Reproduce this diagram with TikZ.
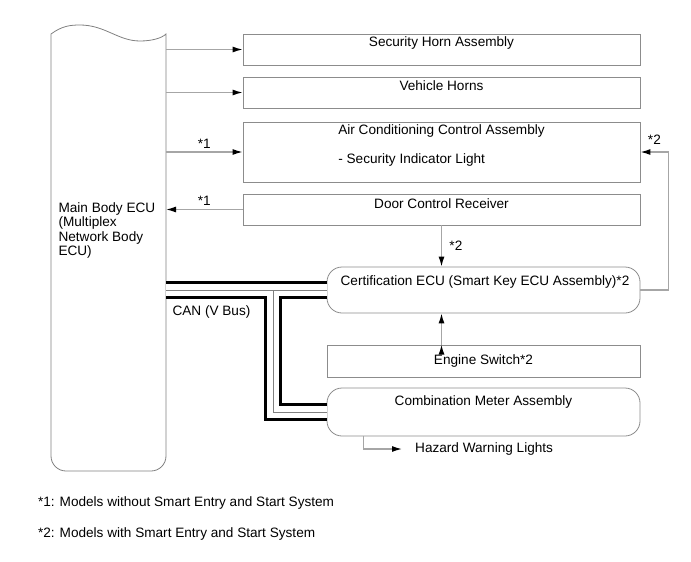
\documentclass[tikz,border=0pt]{standalone}
\usepackage{fontspec}
\setmainfont{Liberation Sans}
\usetikzlibrary{arrows.meta,calc,positioning}

\begin{document}
\begin{tikzpicture}[x=1pt, y=-1pt, font=\fontsize{13.6}{14.5}\selectfont,
  unit/.style={draw=black!45, line width=0.8pt, minimum width=313, inner sep=0pt},
  wide/.style={unit, minimum width=397},
  ecuedge/.style={draw=black!50, line width=0.8pt},
  sig/.style={draw=black!35, line width=1.3pt, -{Latex[length=10pt,width=6pt,color=black]}}
  ]
  \useasboundingbox (0,0) rectangle (691,562);

  % main body ECU
  \node[minimum width=115, minimum height=437, inner sep=0pt, outer sep=0pt] (ecu) at (108.5,252.5) {};
  \draw[ecuedge] (ecu.north west) .. controls (62,26) and (70,25) .. (80,25)
    .. controls (105,25) and (118,41) .. (140,41)
    .. controls (152,41) and (162,38) .. (ecu.north east) -- ++(0,30)
    [rounded corners=15] -- (ecu.south east) -- (ecu.south west) -- ++(0,-100)
    [sharp corners] -- cycle;
  \node[anchor=west, align=left] (ecu-txt) at (55,230.5) {Main Body ECU\\(Multiplex\\Network Body\\ECU)};

  % receivers
  \node[wide, minimum height=31] (horn) at (441.5,49.5) {};
  \node[wide, minimum height=31] (vhorn) at (441.5,92.5) {};
  \node[wide, minimum height=60] (ac) at (441.5,152) {};
  \node[wide, minimum height=31] (door) at (441.5,209.5) {};
  \node[unit, rounded corners=15, minimum height=46] (cert) at (483.5,290) {};
  \node[unit, minimum height=32] (engine) at (483.5,361) {};
  \node[unit, rounded corners=15, minimum height=48] (meter) at (483.5,412) {};

  \node (horn-txt) at (441.5,43) {Security Horn Assembly};
  \node (vhorn-txt) at (441.5,86) {Vehicle Horns};
  \node (ac-txt) at (441.5,131) {Air Conditioning Control Assembly};
  \node[anchor=west, yshift=-29pt] (ac-sub) at (ac-txt.west) {- Security Indicator Light};
  \node (door-txt) at (441.5,204) {Door Control Receiver};
  \node (cert-txt) at (485,282) {Certification ECU (Smart Key ECU Assembly)*2};
  \node (engine-txt) at (483.5,361) {Engine Switch*2};
  \node (meter-txt) at (483.5,402) {Combination Meter Assembly};

  % CAN bus
  \coordinate (tap) at (273,290);
  \foreach \w/\c in {18/black, 12/white, 0.8/black!50}
    \draw[line width=\w, \c, line join=miter] (ecu.east |- cert.west) -- (cert.west) (tap) |- (meter.west);
  \node[anchor=west] (can) at (169,312) {CAN (V Bus)};

  % signals
  \path[sig]
    (ecu.east |- horn.west) edge (horn.west)
    (ecu.east |- vhorn.west) edge (vhorn.west)
    (ecu.east |- ac.west) edge node[above]{*1} (ac.west)
    (door.west) edge node[above]{*1} (ecu.east |- door.west)
    (door.south) edge node[right=4pt]{*2} (door.south |- cert.north)
    (door.south |- engine.north) edge (door.south |- cert.south)
    ;
  \draw[sig] (cert.east) -- ++(28,0) |- node[pos=0.75, above=4pt]{*2} (ac.east);

  \coordinate (hz) at (402,449);
  \node[right=13pt of hz, inner sep=0pt] (hazard) {Hazard Warning Lights};
  \draw[sig] ($(meter.south west)+(37,0)$) |- (hz);

  % notes
  \node[anchor=west] (note1) at (34.5,503) {*1: Models without Smart Entry and Start System};
  \node[anchor=west] (note2) at (34.5,534) {*2: Models with Smart Entry and Start System};
\end{tikzpicture}
\end{document}
